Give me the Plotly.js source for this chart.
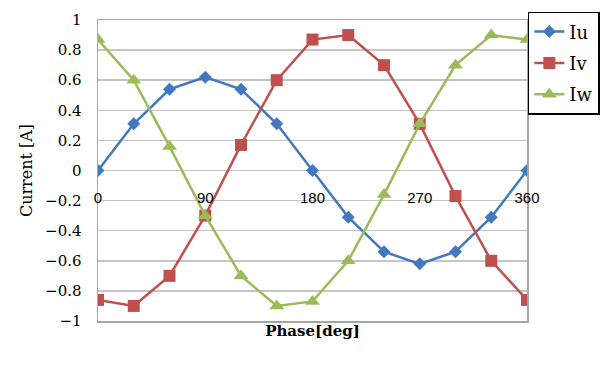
<!DOCTYPE html>
<html>
<head>
<meta charset="utf-8">
<script src="https://cdn.plot.ly/plotly-3.0.1.min.js"></script>
<style>html,body{margin:0;padding:0;background:#fff;}#chart{width:600px;height:369px;}</style>
</head>
<body>
<div id="chart"></div>
<script>
const phase = [0, 30, 60, 90, 120, 150, 180, 210, 240, 270, 300, 330, 360];
const Iu = [0, 0.31, 0.54, 0.62, 0.54, 0.31, 0, -0.31, -0.54, -0.62, -0.54, -0.31, 0];
const Iv = [-0.86, -0.9, -0.7, -0.3, 0.17, 0.6, 0.87, 0.9, 0.7, 0.31, -0.17, -0.6, -0.86];
const Iw = [0.87, 0.6, 0.16, -0.3, -0.7, -0.9, -0.87, -0.6, -0.16, 0.31, 0.7, 0.9, 0.87];
const xTicks = [0, 90, 180, 270, 360];
const yTicks = [-1, -0.8, -0.6, -0.4, -0.2, 0, 0.2, 0.4, 0.6, 0.8, 1];
const yTickText = ['\u22121', '\u22120.8', '\u22120.6', '\u22120.4', '\u22120.2', '0', '0.2', '0.4', '0.6', '0.8', '1'];

const serif = 'DejaVu Serif, Liberation Serif, serif';
const traces = [
  {x: phase, y: Iu, name: 'Iu', legendgroup: 'u', mode: 'lines+markers',
   line: {color: '#4178be', width: 2.5}, marker: {symbol: 'diamond', size: 10, color: '#4178be'}},
  {x: phase, y: Iv, name: 'Iv', legendgroup: 'v', mode: 'lines+markers',
   line: {color: '#c0504d', width: 2.5}, marker: {symbol: 'square', size: 12, color: '#c0504d'}},
  {x: phase, y: Iw, name: 'Iw', legendgroup: 'w', mode: 'lines+markers',
   line: {color: '#9bbb59', width: 2.5}, marker: {symbol: 'triangle-up', size: 13, color: '#9bbb59'}},
  {x: xTicks, y: xTicks.map(() => null), xaxis: 'x2', showlegend: false, hoverinfo: 'skip', mode: 'markers'}
];

const layout = {
  width: 600, height: 369,
  margin: {l: 98, r: 73, t: 20, b: 48, autoexpand: false},
  paper_bgcolor: '#fff', plot_bgcolor: '#fff',
  showlegend: true,
  legend: {x: 1.002, y: 1.027, xanchor: 'left', yanchor: 'top',
           traceorder: 'grouped', tracegroupgap: 5,
           bordercolor: '#000', borderwidth: 1.5, bgcolor: '#fff',
           font: {family: serif, size: 18, color: '#000'}},
  xaxis: {range: [0, 360], showticklabels: false, showgrid: false, zeroline: false,
          showline: true, mirror: true, linecolor: '#a6a6a6', linewidth: 1.5, ticks: '',
          title: {text: '<b>Phase[deg]</b>', font: {family: serif, size: 15, color: '#000'}, standoff: 4}},
  xaxis2: {overlaying: 'x', anchor: 'free', position: 0.445, range: [0, 360],
           tickvals: xTicks, ticktext: xTicks.map(String), showgrid: false, zeroline: false,
           showline: false, ticks: '', tickfont: {family: 'Liberation Sans, Arial, sans-serif', size: 15, color: '#000'}},
  yaxis: {range: [-1, 1], tickvals: yTicks, ticktext: yTickText, showgrid: true,
          gridcolor: '#c4c4c4', gridwidth: 1.5, zeroline: false,
          showline: true, mirror: true, linecolor: '#a6a6a6', linewidth: 1.5, ticks: '',
          ticklabelstandoff: 12,
          tickfont: {family: serif, size: 15, color: '#000'},
          title: {text: 'Current [A]', font: {family: serif, size: 16, color: '#000'}, standoff: 8}}
};

Plotly.newPlot('chart', traces, layout, {displayModeBar: false, staticPlot: true});
</script>
</body>
</html>
